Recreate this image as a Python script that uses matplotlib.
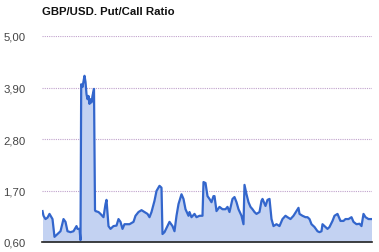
import numpy as np
import matplotlib.pyplot as plt
from matplotlib.ticker import FuncFormatter

# day index and put/call ratio
day = [43, 44, 46, 48, 50, 53, 55, 58, 61, 64, 66, 68, 71, 74, 77, 78, 80, 81,
       81.7, 83, 85, 86, 87, 88, 89, 90, 91, 92, 93, 94.5, 95.5,
       96, 99, 101, 104, 106, 107, 109, 111, 114, 117, 119, 121, 123, 125, 130,
       134, 136, 139, 142, 145, 148, 150, 152, 155, 157, 160, 162, 163, 165,
       168, 170, 173, 175, 177, 179, 182, 184, 186, 189,
       190, 192, 195, 197, 200, 203, 204, 206, 208, 210, 212, 214, 215, 217,
       220, 223, 226, 228, 230, 233, 235, 237, 239, 242, 244, 245, 247, 249,
       251, 253, 255, 257, 260, 262, 263, 266, 268, 270, 272, 274, 277, 280,
       283, 286, 288, 291, 294, 297, 299, 300, 303, 306, 308, 310, 312, 315,
       318, 320, 322, 323, 326, 328, 330, 333, 335, 338, 341, 344, 346, 349,
       352, 354, 357, 360, 362, 364, 366, 369, 372]
ratio = [1.26, 1.16, 1.09, 1.12, 1.20, 1.09, 0.71, 0.77, 0.83, 1.09, 1.03, 0.83,
         0.81, 0.83, 0.94, 0.88, 0.88, 0.64,
         3.97, 3.91, 4.15, 4.02, 3.76, 3.65, 3.72, 3.55, 3.65, 3.58, 3.72, 3.87, 1.28,
         1.26, 1.24, 1.20, 1.13, 1.41, 1.50, 0.94, 0.88, 0.94, 0.95, 1.09, 1.03,
         0.88, 0.98, 0.98, 1.03, 1.16, 1.24, 1.28, 1.24, 1.20, 1.13, 1.24, 1.48,
         1.69, 1.80, 1.76, 0.77, 0.81, 0.94, 1.03, 0.94, 0.83, 1.16, 1.41, 1.62,
         1.52, 1.30, 1.16,
         1.24, 1.13, 1.20, 1.13, 1.16, 1.16, 1.88, 1.86, 1.58, 1.52, 1.45, 1.58,
         1.58, 1.26, 1.35, 1.30, 1.30, 1.35, 1.24, 1.52, 1.56, 1.45, 1.30, 1.16,
         0.98, 1.82, 1.62, 1.45, 1.35, 1.30, 1.24, 1.20, 1.24, 1.48, 1.52, 1.37,
         1.50, 1.52, 1.09, 0.94, 0.98, 0.94, 1.09, 1.16, 1.13, 1.09, 1.16, 1.26,
         1.33, 1.20, 1.16, 1.13, 1.13, 1.09, 0.98, 0.92, 0.83, 0.81, 0.83, 0.98,
         0.92, 0.88, 0.92, 1.05, 1.16, 1.20, 1.05, 1.05, 1.09, 1.09, 1.13, 1.03,
         0.98, 0.99, 0.94, 1.20, 1.13, 1.09, 1.09]
yticks = [0.60, 1.70, 2.80, 3.90, 5.00]

plt.rcParams['font.family'] = ['Liberation Sans', 'DejaVu Sans']

fig = plt.figure(figsize=(3.79, 2.53), dpi=100)
ax = fig.add_axes([42 / 379, 1 - 243 / 253, 330 / 379, 206 / 253])

ax.fill_between(day, 0.6, ratio, color='#c3d2f2', linewidth=0)
ax.plot(day, ratio, color='#3366cc', linewidth=1.6)

ax.set_xlim(42.5, 372.5)
ax.set_ylim(0.6, 5.0)
ax.set_yticks(yticks)
ax.yaxis.set_major_formatter(FuncFormatter(lambda v, p: f"{v:.2f}".replace('.', ',')))
ax.tick_params(axis='y', length=0, pad=12, labelsize=8.2, labelcolor='#444444')
ax.set_xticks([])
ax.grid(axis='y', color='#c0a2cc', linestyle=(0, (1, 1)), linewidth=0.8)
ax.set_axisbelow(True)
for s in ['top', 'right', 'left']:
    ax.spines[s].set_visible(False)
ax.spines['bottom'].set_color('#222222')
ax.spines['bottom'].set_linewidth(1.2)

fig.text(42 / 379, 1 - 12 / 253, 'GBP/USD. Put/Call Ratio', fontsize=8.2,
         fontweight='bold', color='#111111', va='center', ha='left')

fig.savefig('out.png', dpi=100)
